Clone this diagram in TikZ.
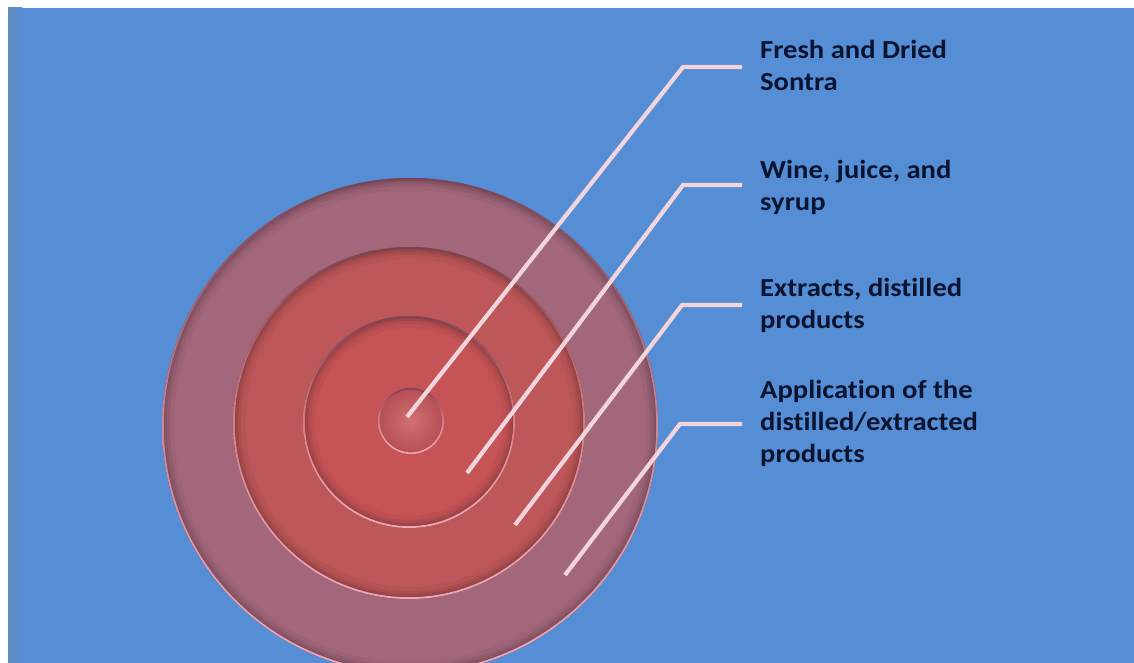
\documentclass[tikz,border=0pt]{standalone}
\usepackage{fontspec}
\setmainfont{Carlito}[FakeStretch=1.1, Ligatures=NoCommon]
\usetikzlibrary{calc}
\definecolor{bgblue}{HTML}{558ED5}
\definecolor{outerring}{HTML}{A3677B}
\definecolor{midring}{HTML}{BE5759}
\definecolor{innerring}{HTML}{C65457}
\definecolor{core}{HTML}{C9575B}
\definecolor{rimlight}{HTML}{F0A8B8}
\definecolor{rimdark}{HTML}{7A4455}
\definecolor{leader}{HTML}{F1D4DC}
\definecolor{labeltext}{HTML}{0A1430}
\tikzset{
  leaderline/.style={draw=leader, line width=4.2pt, line join=miter},
  lbl/.style={anchor=base west, inner sep=0pt, align=left, font=\fontsize{26}{32}\selectfont\bfseries, text=labeltext}
}
% bevelled disk: centre x, centre y, fill colour, radius
\newcommand{\beveldisk}[4]{%
  \fill[#3] (#1,#2) circle[radius=#4];
  \foreach \w/\o in {12/0.04,8/0.06,5/0.08,2.5/0.10}{
    \draw[line width=\w pt, draw=black, opacity=\o] (#1,#2) circle[radius=#4-\w/2];
  }
  \shade[top color=rimdark, bottom color=rimlight, middle color=#3!50!rimlight, even odd rule]
     (#1,#2) circle[radius=#4] (#1,#2) circle[radius=#4-1.8pt];
}
\begin{document}
\begin{tikzpicture}[x=1pt,y=-1pt]
\useasboundingbox (0,0) rectangle (1134,663);
\fill[white] (0,0) rectangle (1134,663);
\fill[bgblue] (8,8) rectangle (1134,663);
\shade[left color=bgblue!70!gray, right color=bgblue] (8,8) rectangle (22,663);
\begin{scope}
\clip (8,8) rectangle (1134,663);
\beveldisk{410}{426}{outerring}{248pt}
\beveldisk{409}{423}{midring}{176pt}
\beveldisk{409}{422}{innerring}{106pt}
\shade[inner color=core!85!white, outer color=core!90!black] (411,421) circle[radius=33pt];
\shade[top color=rimdark, bottom color=rimlight, middle color=core!50!rimlight, even odd rule]
   (411,421) circle[radius=33pt] (411,421) circle[radius=31.4pt];
\end{scope}
% leader coordinates
\coordinate (p1) at (407,417);
\coordinate (e1) at (683,67);
\coordinate (t1) at (742,67);
\coordinate (p2) at (467,473);
\coordinate (e2) at (683,185);
\coordinate (t2) at (742,185);
\coordinate (p3) at (515,525);
\coordinate (e3) at (682,305);
\coordinate (t3) at (742,305);
\coordinate (p4) at (565,575);
\coordinate (e4) at (680,424);
\coordinate (t4) at (742,424);
\draw[leaderline] (p1) -- (e1) -- (t1);
\draw[leaderline] (p2) -- (e2) -- (t2);
\draw[leaderline] (p3) -- (e3) -- (t3);
\draw[leaderline] (p4) -- (e4) -- (t4);
% labels (anchored at the baseline of the last line)
\node[lbl] (l1) at (760,91) {Fresh and Dried\\Sontra};
\node[lbl] (l2) at (760,210) {Wine, juice, and\\syrup};
\node[lbl] (l3) at (760,328) {Extracts, distilled\\products};
\node[lbl] (l4) at (760,462) {Application of the\\distilled/extracted\\products};
\end{tikzpicture}
\end{document}
